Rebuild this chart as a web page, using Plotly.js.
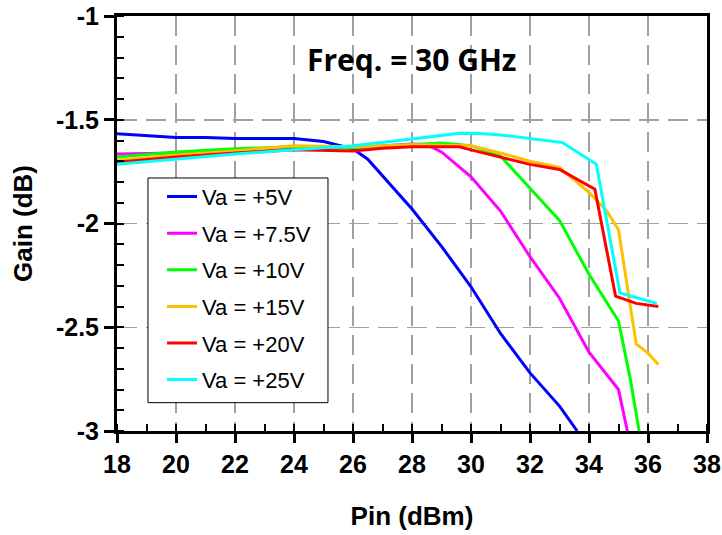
<!DOCTYPE html>
<html><head><meta charset="utf-8">
<script src="https://cdn.plot.ly/plotly-3.0.1.min.js"></script>
<style>html,body{margin:0;padding:0;background:#fff}#chart{width:722px;height:535px}</style>
</head><body><div id="chart"></div>
<script>
const labels = ["Va = +5V","Va = +7.5V","Va = +10V","Va = +15V","Va = +20V","Va = +25V"];
const colors = ["#0000ff","#ff00ff","#00ff00","#ffc000","#ff0000","#00ffff"];

const pin5  = [18,19,20,21,22,23,24,25,26,26.5,27,28,29,30,31,32,33,33.6];
const g5    = [-1.568,-1.578,-1.585,-1.585,-1.59,-1.59,-1.59,-1.605,-1.64,-1.69,-1.77,-1.93,-2.11,-2.305,-2.53,-2.72,-2.88,-3.0];

const pin75 = [18,20,22,24,26,27,28,28.5,29,30,31,32,33,34,35,35.3];
const g75   = [-1.665,-1.66,-1.645,-1.635,-1.635,-1.625,-1.617,-1.62,-1.655,-1.775,-1.94,-2.16,-2.36,-2.62,-2.80,-3.0];

const pin10 = [18,20,22,24,26,28,29,30,31,32,33,34,35,35.4,35.7];
const g10   = [-1.68,-1.655,-1.64,-1.63,-1.635,-1.62,-1.612,-1.625,-1.675,-1.83,-1.985,-2.245,-2.47,-2.75,-3.0];

const pin15 = [18,20,22,24,26,28,30,31,32,33,34,34.6,35,35.6,36,36.35];
const g15   = [-1.695,-1.67,-1.65,-1.625,-1.63,-1.62,-1.625,-1.66,-1.70,-1.73,-1.85,-1.94,-2.03,-2.58,-2.625,-2.68];

const pin20 = [18,20,22,24,26,27,28,29.6,30,31,32,33,34.2,34.9,35.6,36.35];
const g20   = [-1.705,-1.68,-1.66,-1.645,-1.65,-1.637,-1.63,-1.63,-1.645,-1.68,-1.715,-1.74,-1.835,-2.35,-2.385,-2.40];

const pin25 = [18,20,22,24,26,28,29.6,30.3,31,32,33.1,34.25,35.05,36.3];
const g25   = [-1.715,-1.69,-1.665,-1.645,-1.625,-1.593,-1.565,-1.566,-1.573,-1.59,-1.61,-1.715,-2.335,-2.385];

const xs = [pin5,pin75,pin10,pin15,pin20,pin25];
const ys = [g5,g75,g10,g15,g20,g25];

const xTicks = [18,20,22,24,26,28,30,32,34,36,38];
const yTicks = [-1,-1.5,-2,-2.5,-3];

const traces = xs.map((x,i)=>({
  x: x, y: ys[i], type:'scatter', mode:'lines', name: labels[i],
  legendgroup: 'g'+i,
  line:{color:colors[i], width:3}
}));

const fam = '"Liberation Sans", Arial, sans-serif';
const tickFont = {family:fam, size:25, color:'#000', weight:700};
const layout = {
  width:722, height:535,
  margin:{l:117, r:15, t:16, b:104},
  paper_bgcolor:'#fff', plot_bgcolor:'#fff',
  showlegend:true,
  legend:{x:0.0763, y:0.615, xanchor:'left', yanchor:'top', bgcolor:'rgba(0,0,0,0)',
    borderwidth:0, traceorder:'grouped', tracegroupgap:5,
    font:{family:fam, size:22, color:'#000'}},
  shapes:[{type:'rect', xref:'paper', yref:'paper', x0:0.0525, x1:0.3576, y0:0.0683, y1:0.6097,
    line:{color:'#000', width:1}, fillcolor:'#fff', layer:'above'}],
  xaxis:{range:[18,38], tickvals:xTicks, ticktext:xTicks.map(String),
    showline:true, linecolor:'#000', linewidth:3, mirror:true,
    ticks:'outside', ticklen:9, tickwidth:3, tickcolor:'#000',
    minor:{dtick:1, tick0:18, ticks:'inside', ticklen:7, tickwidth:2, tickcolor:'#000', showgrid:false},
    showgrid:true, gridcolor:'#a0a0a0', gridwidth:1.5, griddash:'20px,9px',
    zeroline:false, tickfont:tickFont,
    title:{text:'Pin (dBm)', font:{family:fam, size:26, color:'#000', weight:700}, standoff:30}},
  yaxis:{range:[-3,-1], tickvals:yTicks, ticktext:yTicks.map(String),
    showline:true, linecolor:'#000', linewidth:3, mirror:true,
    ticks:'outside', ticklen:10, tickwidth:3, tickcolor:'#000',
    minor:{dtick:0.1, tick0:-3, ticks:'inside', ticklen:7, tickwidth:2, tickcolor:'#000', showgrid:false},
    showgrid:true, gridcolor:'#a0a0a0', gridwidth:1.5, griddash:'20px,9px',
    zeroline:false, tickfont:tickFont,
    title:{text:'Gain (dB)', font:{family:fam, size:26, color:'#000', weight:700}, standoff:16}},
  annotations:[{text:'Freq. = 30 GHz', xref:'paper', yref:'paper', x:0.5, y:0.895,
    xanchor:'center', yanchor:'middle', showarrow:false,
    font:{family:'"Open Sans", sans-serif', size:30, color:'#000', weight:700}}]
};
Plotly.newPlot('chart', traces, layout, {staticPlot:true, displayModeBar:false});
</script></body></html>
